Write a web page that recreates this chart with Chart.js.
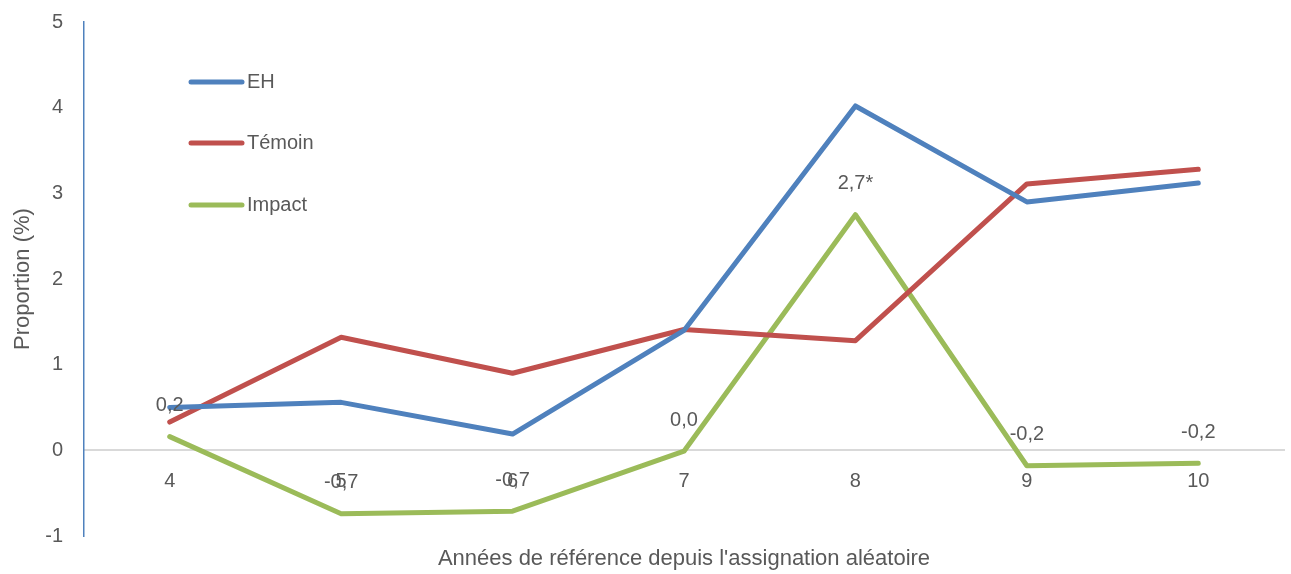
<!DOCTYPE html>
<html>
<head>
<meta charset="utf-8">
<script src="https://cdn.jsdelivr.net/npm/chart.js@4"></script>
<style>
  html, body { margin: 0; padding: 0; background: #fff; }
  #wrap { width: 1291px; height: 574px; }
</style>
</head>
<body>
<div id="wrap"><canvas id="chart"></canvas></div>
<script>
// ============================
// Data
// ============================
const years = ["4", "5", "6", "7", "8", "9", "10"];
const ehValues = [0.50, 0.56, 0.19, 1.40, 4.02, 2.90, 3.12];
const temoinValues = [0.33, 1.32, 0.90, 1.41, 1.28, 3.11, 3.28];
const impactValues = [0.16, -0.74, -0.71, -0.01, 2.75, -0.18, -0.15];
const impactLabels = ["0,2", "-0,7", "-0,7", "0,0", "2,7*", "-0,2", "-0,2"];
const yTicks = [-1, 0, 1, 2, 3, 4, 5];

const FONT = "'Liberation Sans Narrow', 'Arial Narrow', 'Liberation Sans', sans-serif";
const GREY = "#595959";

// ============================
// Plugins: data labels + inside legend
// ============================
const impactLabelPlugin = {
  id: "impactLabels",
  afterDatasetsDraw(chart) {
    const ctx = chart.ctx;
    const meta = chart.getDatasetMeta(2);
    ctx.save();
    ctx.font = "20px " + FONT;
    ctx.fillStyle = GREY;
    ctx.textAlign = "center";
    ctx.textBaseline = "middle";
    meta.data.forEach((pt, i) => {
      ctx.fillText(impactLabels[i], pt.x, pt.y - 31);
    });
    ctx.restore();
  }
};

const insideLegendPlugin = {
  id: "insideLegend",
  afterDraw(chart) {
    const ctx = chart.ctx;
    const rowsY = [82, 143, 205];
    ctx.save();
    ctx.font = "20px " + FONT;
    ctx.textBaseline = "middle";
    ctx.textAlign = "left";
    chart.data.datasets.forEach((ds, i) => {
      ctx.strokeStyle = ds.borderColor;
      ctx.lineWidth = 5;
      ctx.lineCap = "round";
      ctx.beginPath();
      ctx.moveTo(191, rowsY[i]);
      ctx.lineTo(242, rowsY[i]);
      ctx.stroke();
      ctx.fillStyle = GREY;
      ctx.fillText(ds.label, 247, rowsY[i]);
    });
    ctx.restore();
  }
};

// ============================
// Chart
// ============================
const lineStyle = {
  borderWidth: 5,
  pointRadius: 0,
  tension: 0,
  borderCapStyle: "round",
  borderJoinStyle: "round",
  fill: false
};

new Chart(document.getElementById("chart"), {
  type: "line",
  data: {
    labels: years,
    datasets: [
      { label: "EH", data: ehValues, borderColor: "#4F81BD", ...lineStyle },
      { label: "Témoin", data: temoinValues, borderColor: "#C0504D", ...lineStyle },
      { label: "Impact", data: impactValues, borderColor: "#9BBB59", ...lineStyle }
    ]
  },
  options: {
    responsive: true,
    maintainAspectRatio: false,
    animation: false,
    layout: { padding: { left: 0, right: 7, top: 22, bottom: 38 } },
    plugins: {
      legend: { display: false },
      tooltip: { enabled: false }
    },
    scales: {
      x: {
        position: { y: 0 },
        offset: true,
        grid: { display: false, drawTicks: false },
        border: { color: "#D9D9D9", width: 2 },
        ticks: { color: GREY, font: { family: FONT, size: 20 }, padding: 19, maxRotation: 0 },
        title: {
          display: true,
          text: "Années de référence depuis l'assignation aléatoire",
          color: GREY,
          font: { family: FONT, size: 22 },
          padding: { top: 33, bottom: 0 }
        }
      },
      y: {
        min: -1,
        max: 5,
        afterBuildTicks: (scale) => { scale.ticks = yTicks.map(v => ({ value: v })); },
        afterFit: (scale) => {
          scale.width = 84;
          scale.paddingTop = 0;
          scale.paddingBottom = 0;
        },
        grid: { display: false, drawTicks: false },
        border: { color: "#4F81BD", width: 1.5 },
        ticks: { color: GREY, font: { family: FONT, size: 20 }, padding: 21 },
        title: {
          display: true,
          text: "Proportion (%)",
          color: GREY,
          font: { family: FONT, size: 22 },
          padding: { top: 10, bottom: 0 }
        }
      }
    }
  },
  plugins: [impactLabelPlugin, insideLegendPlugin]
});
</script>
</body>
</html>
